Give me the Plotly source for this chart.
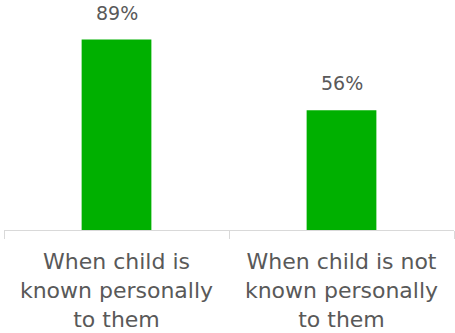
import plotly.graph_objects as go

categories = ["When child is<br>known personally<br>to them", "When child is not<br>known personally<br>to them"]
values = [89, 56]
value_labels = ["89%", "56%"]

bar_color = "#00B000"
text_color = "#595959"
font_family = "DejaVu Sans"

fig = go.Figure()
fig.add_trace(go.Bar(
    x=categories, y=values, width=0.31,
    marker=dict(color=bar_color, line=dict(width=0)),
    hoverinfo="skip",
))

for c, v, t in zip(categories, values, value_labels):
    fig.add_annotation(x=c, y=v, text=t, showarrow=False, yanchor="bottom",
                       yshift=14, font=dict(family=font_family, size=19, color=text_color))

fig.update_layout(
    width=455, height=333,
    margin=dict(l=4, r=1, t=16, b=101),
    plot_bgcolor="white", paper_bgcolor="white",
    showlegend=False,
    xaxis=dict(
        showline=True, linecolor="#D9D9D9", linewidth=1,
        ticks="outside", tickson="boundaries", ticklen=8, tickcolor="#D9D9D9", tickwidth=1,
        tickfont=dict(family=font_family, size=22, color=text_color),
        ticklabelstandoff=12,
        showgrid=False, zeroline=False,
    ),
    yaxis=dict(visible=False, range=[0, 100], showgrid=False, zeroline=False),
)

fig.write_html("out.html")
